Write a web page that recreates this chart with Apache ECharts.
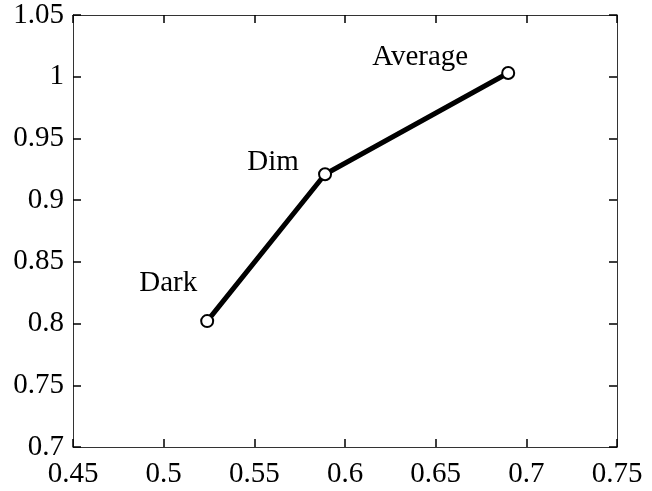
<!DOCTYPE html>
<html>
<head>
<meta charset="utf-8">
<script src="https://cdn.jsdelivr.net/npm/echarts@6/dist/echarts.min.js"></script>
<style>
  html, body { margin: 0; padding: 0; background: #fff; }
  #chart { width: 652px; height: 491px; }
</style>
</head>
<body>
<div id="chart"></div>
<script>
// values
const conditions = ['Dark', 'Dim', 'Average'];
const xValues = [0.524, 0.589, 0.690];
const yValues = [0.802, 0.921, 1.003];

// where each text sits relative to its point (pixels)
const labelOffsets = [[-39, -38], [-52, -12], [-88, -16]];

const serif = '"Liberation Serif", "DejaVu Serif", serif';
const fontSize = 29;

const chart = echarts.init(document.getElementById('chart'));

const tickStyle = { show: true, inside: true, length: 8, lineStyle: { color: '#000', width: 1.5 } };
const lineStyle = { show: true, lineStyle: { color: '#333', width: 1 } };

const option = {
    animation: false,
    grid: { left: 73, top: 15, right: 35, bottom: 44 },
    xAxis: [
        {
            type: 'value', min: 0.45, max: 0.75, interval: 0.05,
            axisLine: lineStyle, axisTick: tickStyle, splitLine: { show: false },
            axisLabel: { color: '#000', fontFamily: serif, fontSize: fontSize, margin: 13 }
        },
        {
            type: 'value', position: 'top', min: 0.45, max: 0.75, interval: 0.05,
            axisLine: lineStyle, axisTick: tickStyle, splitLine: { show: false },
            axisLabel: { show: false }
        }
    ],
    yAxis: [
        {
            type: 'value', min: 0.7, max: 1.05, interval: 0.05,
            axisLine: lineStyle, axisTick: tickStyle, splitLine: { show: false },
            axisLabel: { color: '#000', fontFamily: serif, fontSize: fontSize, margin: 9 }
        },
        {
            type: 'value', position: 'right', min: 0.7, max: 1.05, interval: 0.05,
            axisLine: lineStyle, axisTick: tickStyle, splitLine: { show: false },
            axisLabel: { show: false }
        }
    ],
    series: [
        {
            type: 'line',
            data: xValues.map((x, i) => ({
                value: [x, yValues[i]],
                name: conditions[i],
                label: { offset: labelOffsets[i] }
            })),
            lineStyle: { color: '#000', width: 5 },
            symbol: 'circle',
            symbolSize: 12,
            itemStyle: { color: '#fff', borderColor: '#000', borderWidth: 2 },
            label: {
                show: true,
                position: 'inside',
                formatter: p => p.name,
                color: '#000',
                fontFamily: serif,
                fontSize: fontSize,
                align: 'center',
                verticalAlign: 'middle'
            },
            z: 3
        }
    ]
};

chart.setOption(option);
</script>
</body>
</html>
